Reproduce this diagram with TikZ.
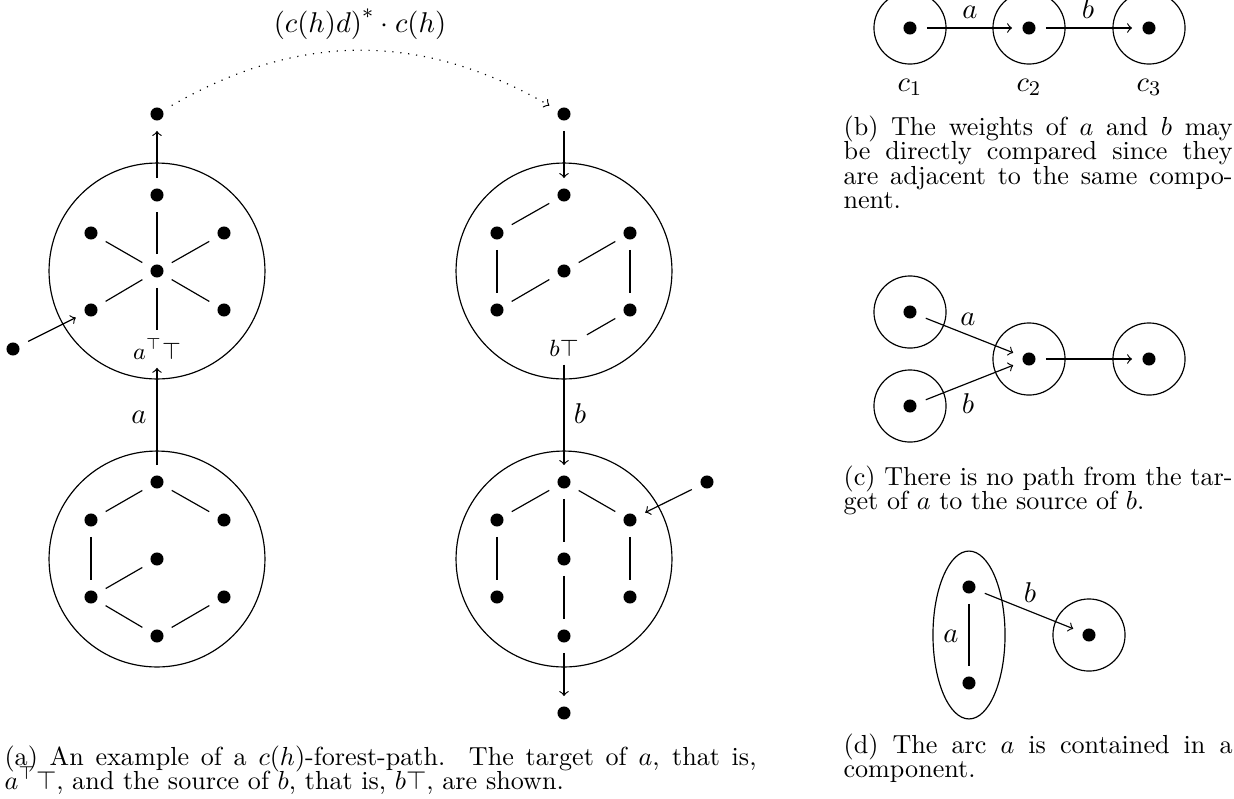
\documentclass[tikz,border=0pt]{standalone}
\usetikzlibrary{shapes.geometric}
\begin{document}
\begin{tikzpicture}[x=0.383pt,y=-0.383pt,line width=0.45pt,
  dotnode/.style={circle,fill,inner sep=0pt,minimum size=5pt,outer sep=4pt},
  comp/.style={circle,draw,inner sep=0pt,minimum size=82.7pt},
  smallcomp/.style={circle,draw,inner sep=0pt,minimum size=27.6pt},
  lbl/.style={font=\fontsize{11}{13}\selectfont,inner sep=0pt,anchor=base},
  tlbl/.style={font=\fontsize{9}{11}\selectfont,inner sep=3pt},
  captext/.style={anchor=base west,inner sep=0pt,font=\fontsize{10}{12}\selectfont},
  dotline/.style={dash pattern=on \pgflinewidth off 2.6pt},
]
\useasboundingbox (0,0) rectangle (1234,798);
\clip (0,0) rectangle (1234,798);

% ---------------- panel (a) ----------------
% top-left component
\node[comp] (K1) at (157,271) {};
\node[dotnode] (p1c) at (157,271) {};
\node[dotnode] (p1t) at (157,195) {};
\node[dotnode] (p1ul) at (91,233) {};
\node[dotnode] (p1ur) at (224,233) {};
\node[dotnode] (p1ll) at (91,310) {};
\node[dotnode] (p1lr) at (224,310) {};
\node[tlbl] (tA) at (157,349) {$a^{\top}\top$};
\draw (p1c) -- (p1t);
\draw (p1c) -- (p1ul);
\draw (p1c) -- (p1ur);
\draw (p1c) -- (p1ll);
\draw (p1c) -- (p1lr);
\draw (p1c) -- (tA);
\node[dotnode] (e1) at (157,114) {};
\node[dotnode] (e2) at (13,349) {};
\draw[->] (p1t) -- (e1);
\draw[->] (e2) -- (p1ll);

% top-right component
\node[comp] (K2) at (564,271) {};
\node[dotnode] (p2c) at (564,271) {};
\node[dotnode] (p2t) at (564,195) {};
\node[dotnode] (p2ul) at (497,233) {};
\node[dotnode] (p2ur) at (630,233) {};
\node[dotnode] (p2ll) at (497,310) {};
\node[dotnode] (p2lr) at (630,310) {};
\node[tlbl] (tB) at (564,348) {$b\top$};
\draw (p2t) -- (p2ul);
\draw (p2ul) -- (p2ll);
\draw (p2c) -- (p2ur);
\draw (p2c) -- (p2ll);
\draw (p2ur) -- (p2lr);
\draw (p2lr) -- (tB);
\node[dotnode] (e3) at (564,114) {};
\draw[->] (e3) -- (p2t);

% dotted connection
\draw[->,dotline] (e1) to[bend left=30] (e3);
\node[lbl] (regex) at (360,32) {$\bigl(c(h)d\bigr)^{*}\cdot c(h)$};

% bottom-left component
\node[comp] (K3) at (157,559) {};
\node[dotnode] (p3t) at (157,482) {};
\node[dotnode] (p3ul) at (91,520) {};
\node[dotnode] (p3ur) at (224,520) {};
\node[dotnode] (p3c) at (157,559) {};
\node[dotnode] (p3ll) at (91,597) {};
\node[dotnode] (p3lr) at (224,597) {};
\node[dotnode] (p3b) at (157,636) {};
\draw (p3t) -- (p3ul);
\draw (p3t) -- (p3ur);
\draw (p3ul) -- (p3ll);
\draw (p3c) -- (p3ll);
\draw (p3ll) -- (p3b);
\draw (p3b) -- (p3lr);
\draw[->] (p3t) -- (tA);
\node[lbl] (la) at (139,423) {$a$};

% bottom-right component
\node[comp] (K4) at (564,559) {};
\node[dotnode] (p4t) at (564,482) {};
\node[dotnode] (p4ul) at (497,520) {};
\node[dotnode] (p4ur) at (630,520) {};
\node[dotnode] (p4c) at (564,559) {};
\node[dotnode] (p4ll) at (497,597) {};
\node[dotnode] (p4lr) at (630,597) {};
\node[dotnode] (p4b) at (564,636) {};
\draw (p4t) -- (p4ul);
\draw (p4t) -- (p4ur);
\draw (p4t) -- (p4c);
\draw (p4c) -- (p4b);
\draw (p4ul) -- (p4ll);
\draw (p4ur) -- (p4lr);
\node[dotnode] (e4) at (707,482) {};
\node[dotnode] (e5) at (564,713) {};
\draw[->] (e4) -- (p4ur);
\draw[->] (p4b) -- (e5);
\draw[->] (tB) -- (p4t);
\node[lbl] (lb) at (580,423) {$b$};

% caption (a)
\node[captext] (capa1) at (4,765) {\makebox[288pt][s]{(a) An example of a $c(h)$-forest-path.\ \ The target of $a$, that is,}};
\node[captext] (capa2) at (4,789) {$a^{\top}\top$, and the source of $b$, that is, $b\top$, are shown.};

% ---------------- panel (b) ----------------
\node[smallcomp] (B1) at (910,28) {};
\node[smallcomp] (B2) at (1029,28) {};
\node[smallcomp] (B3) at (1149,28) {};
\node[dotnode] (b1) at (910,28) {};
\node[dotnode] (b2) at (1029,28) {};
\node[dotnode] (b3) at (1149,28) {};
\draw[->] (b1) -- (b2);
\draw[->] (b2) -- (b3);
\node[lbl] (lba) at (970,18) {$a$};
\node[lbl] (lbb) at (1088,18) {$b$};
\node[lbl] (lc1) at (910,91) {$c_1$};
\node[lbl] (lc2) at (1029,91) {$c_2$};
\node[lbl] (lc3) at (1149,91) {$c_3$};
\node[captext] (capb1) at (843,135) {\makebox[149pt][s]{(b) The weights of $a$ and $b$ may}};
\node[captext] (capb2) at (843,159.5) {\makebox[149pt][s]{be directly compared since they}};
\node[captext] (capb3) at (843,184) {\makebox[149pt][s]{are adjacent to the same compo-}};
\node[captext] (capb4) at (843,208.5) {nent.};

% ---------------- panel (c) ----------------
\node[smallcomp] (C1) at (910,312) {};
\node[smallcomp] (C2) at (910,406) {};
\node[smallcomp] (C3) at (1029,359) {};
\node[smallcomp] (C4) at (1149,359) {};
\node[dotnode] (c1) at (910,312) {};
\node[dotnode] (c2) at (910,406) {};
\node[dotnode] (c3) at (1029,359) {};
\node[dotnode] (c4) at (1149,359) {};
\draw[->] (c1) -- (c3);
\draw[->] (c2) -- (c3);
\draw[->] (c3) -- (c4);
\node[lbl] (lca) at (968,325) {$a$};
\node[lbl] (lcb) at (968,413) {$b$};
\node[captext] (capc1) at (843,485) {\makebox[149pt][s]{(c) There is no path from the tar-}};
\node[captext] (capc2) at (843,509.5) {get of $a$ to the source of $b$.};

% ---------------- panel (d) ----------------
\node[draw,ellipse,inner sep=0pt,minimum width=27.6pt,minimum height=64.3pt] (D1) at (969,635) {};
\node[smallcomp] (D2) at (1089,635) {};
\node[dotnode] (d1) at (969,587) {};
\node[dotnode] (d2) at (969,683) {};
\node[dotnode] (d3) at (1089,635) {};
\draw (d1) -- (d2);
\draw[->] (d1) -- (d3);
\node[lbl] (lda) at (951,642) {$a$};
\node[lbl] (ldb) at (1030,602) {$b$};
\node[captext] (capd1) at (843,753) {\makebox[149pt][s]{(d) The arc $a$ is contained in a}};
\node[captext] (capd2) at (843,777) {component.};
\end{tikzpicture}
\end{document}
